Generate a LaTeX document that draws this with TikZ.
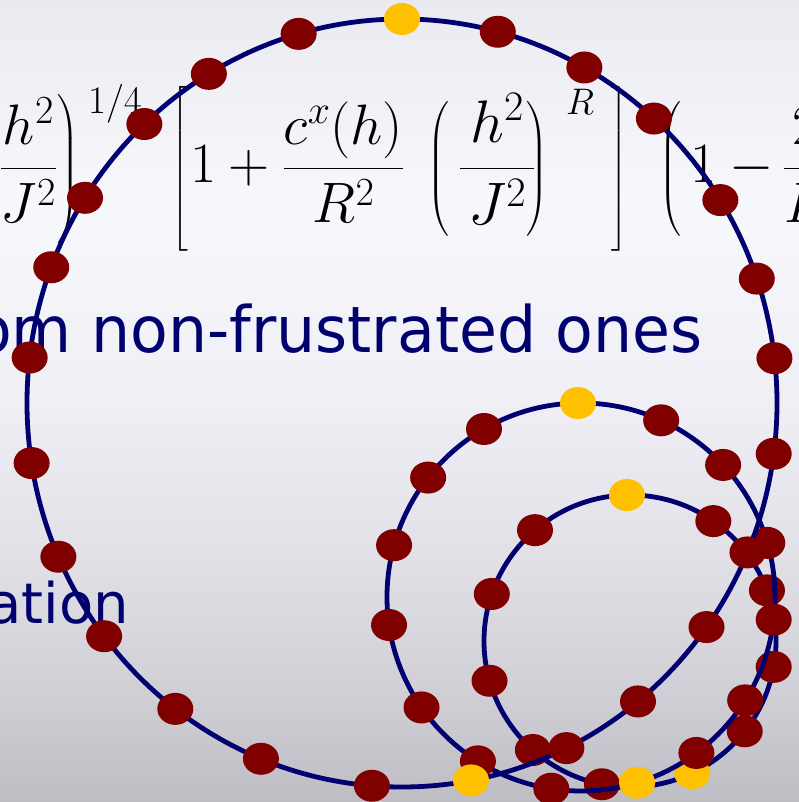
\RequirePackage{fix-cm}
\documentclass[tikz,border=0pt]{standalone}
\usepackage{amsmath}
\usepackage{fontspec}
\newfontfamily\comicf{DejaVu Sans}
\usetikzlibrary{calc}
\definecolor{navyline}{RGB}{0,0,112}
\definecolor{navytext}{RGB}{0,0,110}
\definecolor{beadred}{RGB}{128,0,0}
\definecolor{beadyel}{RGB}{255,192,0}
\definecolor{bgA}{RGB}{234,234,241}
\definecolor{bgB}{RGB}{247,248,252}
\definecolor{bgC}{RGB}{239,239,245}
\definecolor{bgD}{RGB}{224,224,230}
\definecolor{bgE}{RGB}{206,206,212}
\definecolor{bgF}{RGB}{189,189,195}
\pgfdeclareverticalshading{slidebg}{100bp}{color(0bp)=(bgF); color(25bp)=(bgF); color(31.4bp)=(bgE); color(40.1bp)=(bgD); color(50.1bp)=(bgC); color(62.5bp)=(bgB); color(75bp)=(bgA); color(100bp)=(bgA)}
\newcommand{\brackstrut}{\vrule height 98pt depth 70pt width 0pt}
\newcommand{\parstrut}{\vrule height 80pt depth 52pt width 0pt}
\begin{document}
\begin{tikzpicture}[x=1pt,y=-1pt,
  loopline/.style={draw=navyline,line width=4.8pt},
  redbead/.style={fill=beadred},
  yelbead/.style={fill=beadyel},
  mathtext/.style={inner sep=0pt,font=\fontsize{57}{64}\selectfont},
  supmath/.style={inner sep=0pt,font=\fontsize{39}{44}\selectfont},
  slidetext/.style={inner sep=0pt,text=navytext}]
\path[use as bounding box] (0,0) rectangle (799,802);
\clip (0,0) rectangle (799,802);
\shade[shading=slidebg] (0,0) rectangle (799,802);
% formula
\node[mathtext,anchor=base east] (fleft) at (79,183) {$\displaystyle\left(\frac{h^2}{J^2}\parstrut\right)$};
\node[supmath,anchor=base west] (fleftexp) at (88,114) {$1/4$};
\node[mathtext,anchor=base west] (fbrA) at (171,183) {$\displaystyle\left[\brackstrut\right.$};
\node[mathtext,anchor=base west] (fone) at (190,183) {$\displaystyle 1+\frac{c^x(h)}{R^2}$};
\node[mathtext,anchor=base west] (fparA) at (427,183) {$\displaystyle\left(\parstrut\right.$};
\node[mathtext,font=\fontsize{60}{66}\selectfont,anchor=base west] (fparfrac) at (459,183) {$\displaystyle\frac{\,h^2\,}{J^2}$};
\node[mathtext,anchor=base west] (fparB) at (525,183) {$\displaystyle\left.\parstrut\right)$};
\node[supmath,font=\fontsize{37}{42}\selectfont,anchor=base west] (fparexp) at (566,115) {$R$};
\node[mathtext,anchor=base west] (fbrB) at (610,183) {$\displaystyle\left.\brackstrut\right]$};
\node[mathtext,anchor=base west] (frpar) at (659,183) {$\displaystyle\left(\parstrut\right.$};
\node[mathtext,anchor=base west] (frone) at (690,183) {$1-{}$};
\node[mathtext,anchor=base west] (frfrac) at (783,183) {$\displaystyle\frac{2}{R}$};
% slide text
\node[slidetext,anchor=base west,font=\fontsize{64}{70}\comicf,xscale=0.963] (tline) at (-26,352) {om non-frustrated ones};
\node[slidetext,anchor=base east,font=\fontsize{56}{60}\comicf] (tation) at (129,623) {ation};
% small loop
\draw[loopline] (630,641) circle [radius=146];
\foreach \a in {-55.2,-20.3,10.2,38.2,101.1,131.7,164.2,-161.2,-130.6}
  \fill[redbead] ($(630,641)+(\a:146)$) ellipse [x radius=18,y radius=16];
\foreach \a in {-91.2,64.8}
  \fill[yelbead] ($(630,641)+(\a:146)$) ellipse [x radius=18,y radius=16];
% medium loop
\draw[loopline] (581,597) circle [radius=194];
\foreach \a in {-65.6,-42.9,-16.2,6.7,32.2,53.5,98.8,122.1,145.3,171.7,-164.5,-142,-120}
  \fill[redbead] ($(581,597)+(\a:194)$) ellipse [x radius=18,y radius=16];
\foreach \a in {-90.9,73.2}
  \fill[yelbead] ($(581,597)+(\a:194)$) ellipse [x radius=18,y radius=16];
% big loop
\draw[loopline] (402,403) ellipse [x radius=375,y radius=384];
\foreach \a in {-106,-121,-133.4,-147.7,-159.3,-173.2,-189,-203.6,-217.4,-232.8,-247.9,-265.4,-296,-309,-324.3,-337.1,-352.4,-6.7,-18.9,-31.9,-47.8,-60.9,-75.2}
  \fill[redbead] ($(402,403)+(\a:375 and 384)$) ellipse [x radius=18,y radius=16];
\foreach \a in {-90,-280.6}
  \fill[yelbead] ($(402,403)+(\a:375 and 384)$) ellipse [x radius=18,y radius=16];
\end{tikzpicture}
\end{document}
